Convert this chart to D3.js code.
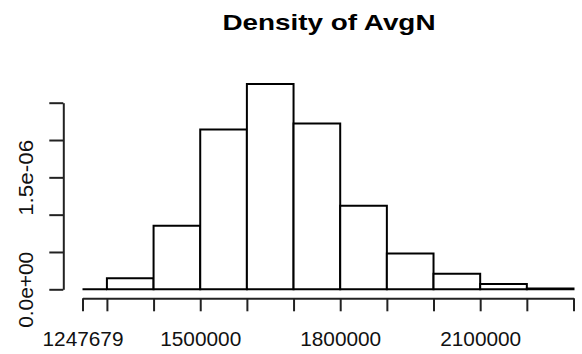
<!DOCTYPE html>
<meta charset="utf-8">
<style>

body {
  margin: 0;
  background: #fff;
  font-family: "Liberation Sans", Arial, sans-serif;
}

.axis path,
.axis line {
  fill: none;
  stroke: #222;
  stroke-width: 2px;
}

.axis text {
  fill: #111;
  font-size: 20px;
  font-family: "Liberation Sans", Arial, sans-serif;
}

.bar {
  fill: #fff;
  stroke: #000;
  stroke-width: 2px;
}

</style>
<body>
<script src="https://d3js.org/d3.v7.min.js"></script>
<script>

// histogram breaks and density per bin
var breaks = [1247679, 1300000, 1400000, 1500000, 1600000, 1700000,
              1800000, 1900000, 2000000, 2100000, 2200000, 2300000];
var density = [0, 1.47e-7, 8.5e-7, 2.14e-6, 2.75e-6, 2.22e-6,
               1.12e-6, 4.8e-7, 2.1e-7, 7e-8, 1e-8];

var xTicks = breaks;
var xLabels = [1247679, 1500000, 1800000, 2100000];
var yTicks = [0, 5e-7, 1e-6, 1.5e-6, 2e-6, 2.5e-6];
var yLabels = ["0.0e+00", "", "", "1.5e-06", "", ""];

var width = 582,
    height = 354;

var x = d3.scaleLinear()
    .domain([breaks[0], breaks[breaks.length - 1]])
    .range([82.5, 573.5]);

var y = d3.scaleLinear()
    .domain([0, 2.5e-6])
    .range([289.3, 102.7]);

var svg = d3.select("body").append("svg")
    .attr("width", width)
    .attr("height", height);

svg.append("text")
    .attr("x", 329)
    .attr("y", 30)
    .attr("text-anchor", "middle")
    .style("font-size", "22px")
    .style("font-weight", "bold")
    .attr("textLength", 213)
    .attr("lengthAdjust", "spacingAndGlyphs")
    .text("Density of AvgN");

var bins = density.map(function(d, i) {
  return {x0: breaks[i], x1: breaks[i + 1], d: d};
});

// paths so that an empty bin still shows its bottom edge
svg.selectAll(".bar")
    .data(bins)
  .enter().append("path")
    .attr("class", "bar")
    .attr("d", function(d) {
      return "M" + x(d.x0) + "," + y(0) + "V" + y(d.d) + "H" + x(d.x1) + "V" + y(0) + "Z";
    });

var xAxis = d3.axisBottom(x)
    .tickValues(xTicks)
    .tickSize(13)
    .tickSizeOuter(0)
    .tickFormat(function(d) { return xLabels.indexOf(d) >= 0 ? d3.format("d")(d) : ""; });

var gx = svg.append("g")
    .attr("class", "x axis")
    .attr("transform", "translate(0,298.3)")
    .call(xAxis);

gx.selectAll("text")
    .attr("y", 47.5)
    .attr("dy", 0)
    .attr("textLength", function() { return this.textContent ? 81 : null; })
    .attr("lengthAdjust", "spacingAndGlyphs");

var yAxis = d3.axisLeft(y)
    .tickValues(yTicks)
    .tickSize(14)
    .tickSizeOuter(0)
    .tickFormat(function(d, i) { return yLabels[i]; });

var gy = svg.append("g")
    .attr("class", "y axis")
    .attr("transform", "translate(63.3,0)")
    .call(yAxis);

gy.selectAll("text")
    .attr("transform", "rotate(-90)")
    .attr("x", 0)
    .attr("y", -30)
    .attr("dy", 0)
    .attr("text-anchor", "middle")
    .attr("textLength", function() { return this.textContent ? 76 : null; })
    .attr("lengthAdjust", "spacingAndGlyphs");

</script>
